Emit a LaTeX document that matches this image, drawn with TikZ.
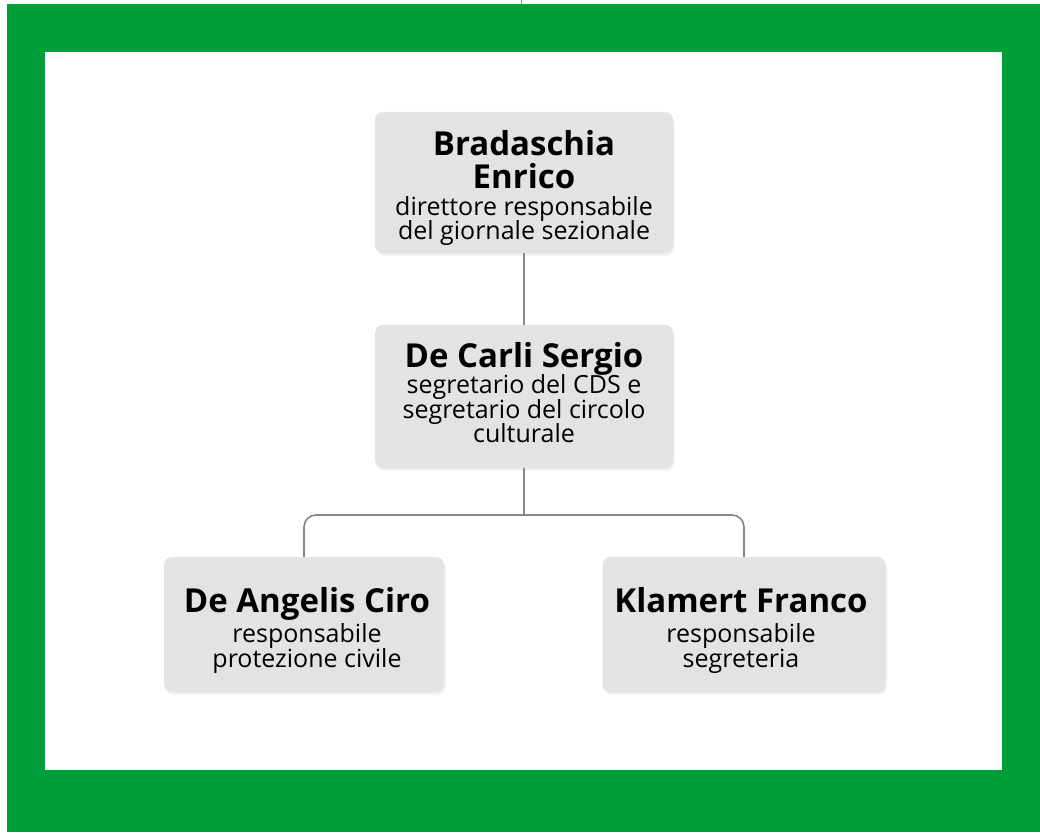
\documentclass[tikz,border=0pt]{standalone}
\usepackage{fontspec}
\setmainfont{Open Sans}
\usetikzlibrary{shadows}
\definecolor{frame}{RGB}{0,158,58}
\definecolor{boxgray}{RGB}{227,227,229}
\definecolor{linegray}{RGB}{135,135,135}
\newcommand\nmf{\fontsize{33}{22}\selectfont\bfseries}
\newcommand\lsfix{\lineskiplimit=-100pt\lineskip=0pt\relax}
\tikzset{
  box/.style={fill=boxgray, rounded corners=8pt, inner sep=0pt,
    drop shadow={opacity=0.12, shadow xshift=1.5pt, shadow yshift=-2.5pt}},
  txt/.style={align=center, inner sep=0pt, text=black,
    font=\fontsize{25}{23.5}\selectfont\lsfix},
  conn/.style={draw=linegray, line width=1.6pt},
}
\begin{document}
\begin{tikzpicture}[x=1pt,y=-1pt]
\useasboundingbox (0,0) rectangle (1040,832);
\fill[white] (0,0) rectangle (1040,832);
\fill[frame] (7,4) rectangle (1040,832);
\fill[white] (45,52) rectangle (1002,770);
\draw[linegray, line width=1pt] (521,0) -- (521,4);

\node[box, minimum width=298pt, minimum height=141pt] (top) at (524,182.5) {};
\node[box, minimum width=298pt, minimum height=143pt] (mid) at (524,396.5) {};
\node[box, minimum width=280pt, minimum height=135pt] (left) at (304,624.5) {};
\node[box, minimum width=283pt, minimum height=135pt] (right) at (744,624.5) {};

\node[txt] (topt) at (524,188) {{\nmf Bradaschia}\\[9.5pt]{\nmf Enrico}\\[3.5pt]direttore responsabile\\del giornale sezionale};
\node[txt, font=\fontsize{25}{24.5}\selectfont\lsfix] (midt) at (524,393) {{\nmf De Carli Sergio}\\[1.5pt]segretario del CDS e\\segretario del circolo\\culturale};
\node[txt, font=\fontsize{25}{25}\selectfont\lsfix] (leftt) at (307,630) {{\nmf De Angelis Ciro}\\[5pt]responsabile\\protezione civile};
\node[txt, font=\fontsize{25}{25}\selectfont\lsfix] (rightt) at (741,630) {{\nmf Klamert Franco}\\[5pt]responsabile\\segreteria};

\coordinate (bus) at (524,515);
\draw[conn] (top.south) -- (mid.north);
\draw[conn] (mid.south) -- (bus);
\draw[conn, rounded corners=12pt] (left.north) |- (bus) -| (right.north);
\end{tikzpicture}
\end{document}
